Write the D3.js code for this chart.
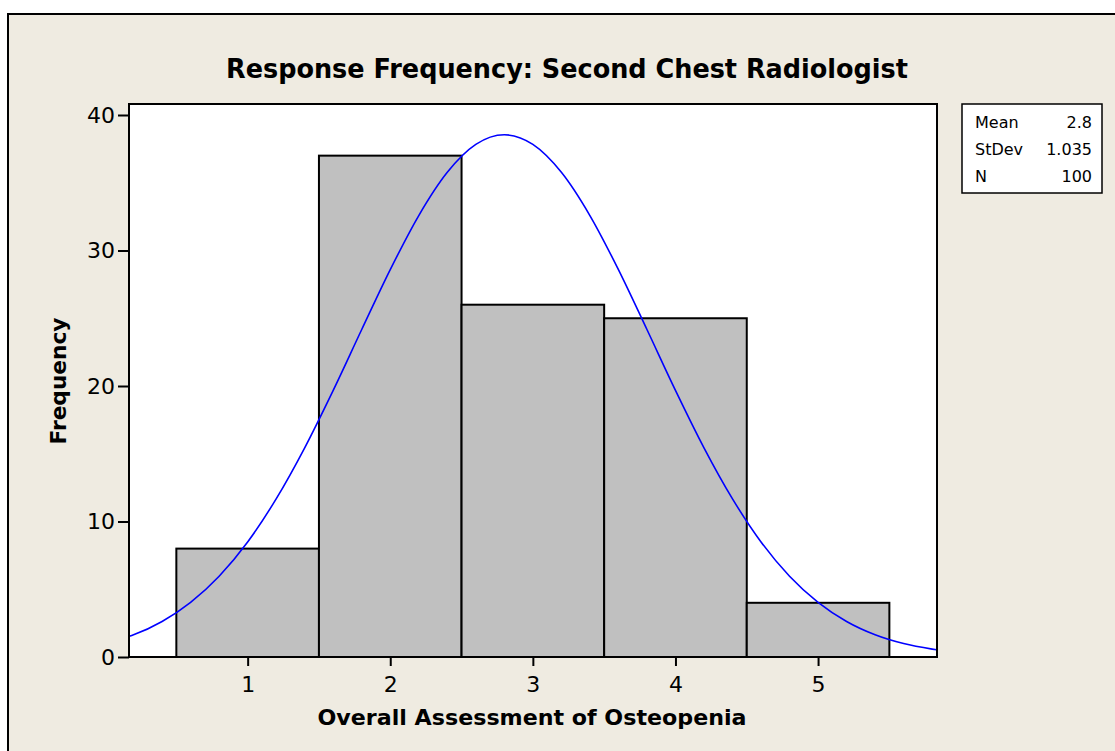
<!DOCTYPE html>
<html>
<head>
<meta charset="utf-8">
<script src="https://cdn.jsdelivr.net/npm/d3@7.9.0/dist/d3.min.js"></script>
<style>
  html, body { margin: 0; padding: 0; background: #fff; }
  svg { display: block; font-family: "DejaVu Sans", Verdana, sans-serif; }
</style>
</head>
<body>
<svg id="chart" width="1115" height="751"></svg>
<script>
const width = 1115;
const height = 751;
const plot = { left: 129, right: 937, top: 104, bottom: 657 };

// histogram bins (centres) and counts
const binCenters = [1, 2, 3, 4, 5];
const counts = [8, 37, 26, 25, 4];
const binWidth = 1;

// fitted normal curve
const curveX = [0.17, 0.2, 0.4, 0.6, 0.8, 1.0, 1.2, 1.4, 1.6, 1.8, 2.0, 2.2, 2.4, 2.6, 2.8,
                3.0, 3.2, 3.4, 3.6, 3.8, 4.0, 4.2, 4.4, 4.6, 4.8, 5.0, 5.2, 5.4, 5.6, 5.8, 5.83];
const curveY = [1.53, 1.64, 2.62, 4.03, 5.96, 8.49, 11.67, 15.44, 19.68, 24.17, 28.59, 32.58, 35.77, 37.83, 38.54,
                37.83, 35.77, 32.58, 28.59, 24.17, 19.68, 15.44, 11.67, 8.49, 5.96, 4.03, 2.62, 1.64, 0.99, 0.58, 0.53];

const xTicks = [1, 2, 3, 4, 5];
const yTicks = [0, 10, 20, 30, 40];

const statLabels = ["Mean", "StDev", "N"];
const statValues = ["2.8", "1.035", "100"];

const svg = d3.select("#chart");

// beige frame
svg.append("rect")
  .attr("x", 8).attr("y", 14)
  .attr("width", width + 10).attr("height", height + 10)
  .attr("fill", "#efebe1")
  .attr("stroke", "#000")
  .attr("stroke-width", 2);

const x = d3.scaleLinear()
  .domain([0.168, 5.834])
  .range([plot.left, plot.right]);

const y = d3.scaleLinear()
  .domain([0, 40])
  .range([plot.bottom, 115]);

// plot area
svg.append("rect")
  .attr("x", plot.left).attr("y", plot.top)
  .attr("width", plot.right - plot.left).attr("height", plot.bottom - plot.top)
  .attr("fill", "#fff");

// bars
svg.append("g")
  .selectAll("rect")
  .data(binCenters)
  .join("rect")
  .attr("x", d => x(d - binWidth / 2))
  .attr("width", d => x(d + binWidth / 2) - x(d - binWidth / 2))
  .attr("y", (d, i) => y(counts[i]))
  .attr("height", (d, i) => y(0) - y(counts[i]))
  .attr("fill", "#c0c0c0")
  .attr("stroke", "#000")
  .attr("stroke-width", 2);

// normal fit
const line = d3.line()
  .x((d, i) => x(curveX[i]))
  .y(d => y(d))
  .curve(d3.curveMonotoneX);

svg.append("path")
  .datum(curveY)
  .attr("d", line)
  .attr("fill", "none")
  .attr("stroke", "#0000ff")
  .attr("stroke-width", 1.6);

// plot border
svg.append("rect")
  .attr("x", plot.left).attr("y", plot.top)
  .attr("width", plot.right - plot.left).attr("height", plot.bottom - plot.top)
  .attr("fill", "none")
  .attr("stroke", "#000")
  .attr("stroke-width", 2);

// axes
const xAxis = svg.append("g")
  .attr("transform", `translate(0,${plot.bottom})`)
  .call(d3.axisBottom(x).tickValues(xTicks).tickFormat(d3.format("d")).tickSize(9).tickPadding(10));
xAxis.select(".domain").remove();
xAxis.selectAll("line").attr("stroke", "#000").attr("stroke-width", 2);
xAxis.selectAll("text").attr("font-size", 22).attr("fill", "#000").attr("font-family", "DejaVu Sans");

const yAxis = svg.append("g")
  .attr("transform", `translate(${plot.left},0)`)
  .call(d3.axisLeft(y).tickValues(yTicks).tickSize(11).tickPadding(3));
yAxis.select(".domain").remove();
yAxis.selectAll("line").attr("stroke", "#000").attr("stroke-width", 2);
yAxis.selectAll("text").attr("font-size", 22).attr("fill", "#000").attr("font-family", "DejaVu Sans");

// title and labels
svg.append("text")
  .attr("x", 567).attr("y", 78)
  .attr("text-anchor", "middle")
  .attr("font-size", 27).attr("font-weight", "bold")
  .attr("textLength", 682).attr("lengthAdjust", "spacingAndGlyphs")
  .text("Response Frequency: Second Chest Radiologist");

svg.append("text")
  .attr("x", 532).attr("y", 725)
  .attr("text-anchor", "middle")
  .attr("font-size", 22).attr("font-weight", "bold")
  .attr("textLength", 429).attr("lengthAdjust", "spacingAndGlyphs")
  .text("Overall Assessment of Osteopenia");

svg.append("text")
  .attr("transform", "translate(66,381) rotate(-90)")
  .attr("text-anchor", "middle")
  .attr("font-size", 22).attr("font-weight", "bold")
  .attr("textLength", 127).attr("lengthAdjust", "spacingAndGlyphs")
  .text("Frequency");

// stats box
const legend = svg.append("g");
legend.append("rect")
  .attr("x", 962).attr("y", 104)
  .attr("width", 140).attr("height", 89)
  .attr("fill", "#fff")
  .attr("stroke", "#000")
  .attr("stroke-width", 1.5);

legend.selectAll("text.lab")
  .data(statLabels)
  .join("text")
  .attr("class", "lab")
  .attr("x", 975)
  .attr("y", (d, i) => 128 + i * 27)
  .attr("font-size", 16)
  .text(d => d);

legend.selectAll("text.val")
  .data(statValues)
  .join("text")
  .attr("class", "val")
  .attr("x", 1092)
  .attr("y", (d, i) => 128 + i * 27)
  .attr("text-anchor", "end")
  .attr("font-size", 16)
  .text(d => d);
</script>
</body>
</html>
